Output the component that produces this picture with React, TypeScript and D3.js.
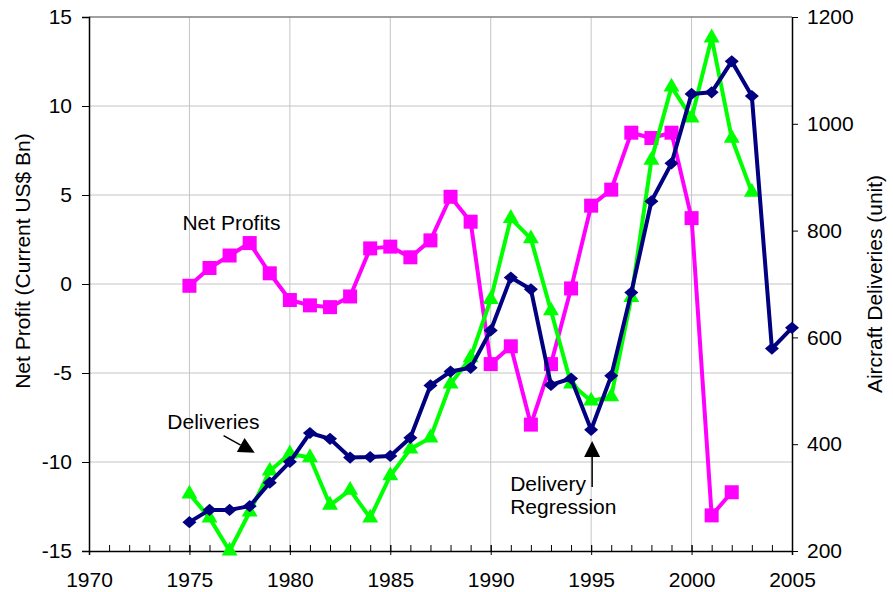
import * as d3 from "d3";
import React, { useEffect, useRef } from "react";

// data
const years = d3.range(1975, 2006);
const netProfit = [
    -0.1, 0.9, 1.6, 2.3, 0.6, -0.9, -1.2, -1.3, -0.7, 2.0, 2.1, 1.5, 2.45, 4.9,
    3.5, -4.5, -3.5, -7.9, -4.5, -0.25, 4.4, 5.3, 8.5, 8.2, 8.5, 3.7, -13.0,
    -11.7,
];
const greenDeliveries = [
    307, 262, 200, 273, 350, 382, 375, 286, 314, 262, 341, 391, 412, 513, 562,
    671, 823, 785, 650, 513, 481, 489, 675, 932, 1069, 1011, 1161, 973, 872,
];
const navyDeliveries = [
    254, 277, 277, 284, 328, 367, 421, 410, 375, 376, 378, 412, 510, 536, 543,
    613, 712, 690, 511, 523, 427, 528, 684, 855, 926, 1056, 1059, 1117, 1052,
    579, 618,
];
const leftTicks = [-15, -10, -5, 0, 5, 10, 15];
const rightTicks = [200, 400, 600, 800, 1000, 1200];
const xTicks = [1970, 1975, 1980, 1985, 1990, 1995, 2000, 2005];

const W = 893,
    H = 592;
const FONT = "'Liberation Sans', Arial, sans-serif";
const FS = 21;
const plain = (d: d3.NumberValue) => String(d); // hyphen minus like the original

const App: React.FC = () => {
    const svgRef = useRef<SVGSVGElement>(null);

    useEffect(() => {
        const svg = d3.select(svgRef.current);
        svg.selectAll("*").remove();

        const margin = { top: 17, right: 101, bottom: 41, left: 89 };
        const x = d3
            .scaleLinear()
            .domain([1970, 2005])
            .range([margin.left, W - margin.right]);
        const yL = d3
            .scaleLinear()
            .domain([-15, 15])
            .range([H - margin.bottom, margin.top]);
        const yR = d3
            .scaleLinear()
            .domain([200, 1200])
            .range([H - margin.bottom, margin.top]);
        const x0 = x(1970),
            x1 = x(2005),
            yTop = yL(15),
            yBot = yL(-15);

        const g = svg.append("g").attr("font-family", FONT);

        // gridlines
        g.selectAll(".hgrid")
            .data(leftTicks.filter(d => d > -15 && d < 15))
            .enter()
            .append("line")
            .attr("x1", x0)
            .attr("x2", x1)
            .attr("y1", d => yL(d))
            .attr("y2", d => yL(d))
            .attr("stroke", "#c4c4c4");
        g.selectAll(".vgrid")
            .data(xTicks.filter(d => d > 1970 && d < 2005))
            .enter()
            .append("line")
            .attr("x1", d => x(d))
            .attr("x2", d => x(d))
            .attr("y1", yTop)
            .attr("y2", yBot)
            .attr("stroke", "#c4c4c4");
        g.append("line")
            .attr("x1", x0)
            .attr("x2", x1)
            .attr("y1", yTop)
            .attr("y2", yTop)
            .attr("stroke", "#808080")
            .attr("stroke-width", 1.5);

        // axes
        g.append("g")
            .attr("transform", `translate(${x0},0)`)
            .call(
                d3
                    .axisLeft(yL)
                    .tickValues(leftTicks)
                    .tickSize(7)
                    .tickPadding(10)
                    .tickFormat(plain),
            )
            .call(a => a.select(".domain").attr("stroke", "#000").attr("stroke-width", 1.5));
        g.append("g")
            .attr("transform", `translate(${x1},0)`)
            .call(
                d3
                    .axisRight(yR)
                    .tickValues(rightTicks)
                    .tickSizeInner(6)
                    .tickSizeOuter(0)
                    .tickPadding(9)
                    .tickFormat(plain),
            )
            .call(a => a.select(".domain").attr("stroke", "#000").attr("stroke-width", 1.5));
        // minor year ticks (inside)
        g.append("g")
            .attr("transform", `translate(0,${yBot})`)
            .call(
                d3
                    .axisBottom(x)
                    .tickValues(d3.range(1970, 2006))
                    .tickSize(-6)
                    .tickFormat(() => ""),
            )
            .call(a => a.select(".domain").remove());
        g.append("g")
            .attr("transform", `translate(0,${yBot})`)
            .call(
                d3
                    .axisBottom(x)
                    .tickValues(xTicks)
                    .tickSize(4)
                    .tickPadding(17)
                    .tickFormat(plain),
            )
            .call(a => a.select(".domain").attr("stroke", "#000").attr("stroke-width", 1.5))
            .call(a => a.selectAll(".tick line").attr("y1", -6));

        g.selectAll(".tick text")
            .attr("font-size", FS)
            .attr("font-family", FONT)
            .attr("fill", "#000");

        // axis titles
        g.append("text")
            .attr("transform", `translate(30,261) rotate(-90)`)
            .attr("text-anchor", "middle")
            .attr("font-size", FS)
            .text("Net Profit (Current US$ Bn)");
        g.append("text")
            .attr("transform", `translate(882,284) rotate(-90)`)
            .attr("text-anchor", "middle")
            .attr("font-size", FS)
            .text("Aircraft Deliveries (unit)");

        // series
        const profitLine = d3
            .line<number>()
            .x((_, i) => x(years[i]))
            .y(d => yL(d));
        const delivLine = d3
            .line<number>()
            .x((_, i) => x(years[i]))
            .y(d => yR(d));

        g.append("path")
            .datum(netProfit)
            .attr("fill", "none")
            .attr("stroke", "#ff00ff")
            .attr("stroke-width", 4)
            .attr("stroke-linejoin", "round")
            .attr("d", profitLine);
        g.selectAll(".sq")
            .data(netProfit)
            .enter()
            .append("rect")
            .attr("x", (_, i) => x(years[i]) - 7)
            .attr("y", d => yL(d) - 7)
            .attr("width", 14)
            .attr("height", 14)
            .attr("fill", "#ff00ff");

        g.append("path")
            .datum(greenDeliveries)
            .attr("fill", "none")
            .attr("stroke", "#00ff00")
            .attr("stroke-width", 4)
            .attr("stroke-linejoin", "round")
            .attr("d", delivLine);
        const tri = d3.symbol().type(d3.symbolTriangle).size(110);
        g.selectAll(".tri")
            .data(greenDeliveries)
            .enter()
            .append("path")
            .attr("transform", (d, i) => `translate(${x(years[i])},${yR(d)})`)
            .attr("d", tri)
            .attr("fill", "#00ff00");

        g.append("path")
            .datum(navyDeliveries)
            .attr("fill", "none")
            .attr("stroke", "#000080")
            .attr("stroke-width", 4)
            .attr("stroke-linejoin", "round")
            .attr("d", delivLine);
        const dia = d3.symbol().type(d3.symbolDiamond2).size(95);
        g.selectAll(".dia")
            .data(navyDeliveries)
            .enter()
            .append("path")
            .attr("transform", (d, i) => `translate(${x(years[i])},${yR(d)}) scale(1.15,1)`)
            .attr("d", dia)
            .attr("fill", "#000080");

        // annotations
        const arrow = (fx: number, fy: number, tx: number, ty: number) => {
            const ang = Math.atan2(ty - fy, tx - fx);
            const len = 16,
                half = 8;
            const bx = tx - len * Math.cos(ang),
                by = ty - len * Math.sin(ang);
            g.append("line")
                .attr("x1", fx)
                .attr("y1", fy)
                .attr("x2", bx)
                .attr("y2", by)
                .attr("stroke", "#000")
                .attr("stroke-width", 1.5);
            const px = -Math.sin(ang) * half,
                py = Math.cos(ang) * half;
            g.append("path")
                .attr("d", `M${tx},${ty}L${bx + px},${by + py}L${bx - px},${by - py}Z`)
                .attr("fill", "#000");
        };

        g.append("text")
            .attr("x", x(1974.65))
            .attr("y", yR(802))
            .attr("font-size", FS)
            .text("Net Profits");
        g.append("text")
            .attr("x", x(1973.9))
            .attr("y", yR(428))
            .attr("font-size", FS)
            .text("Deliveries");
        arrow(x(1976.7), yR(416), x(1978.25), yR(384));

        g.append("text")
            .attr("x", x(1990.97))
            .attr("y", yR(312))
            .attr("font-size", FS)
            .text("Delivery");
        g.append("text")
            .attr("x", x(1990.97))
            .attr("y", yR(269))
            .attr("font-size", FS)
            .text("Regression");
        arrow(x(1995.05), yR(320), x(1995.05), yR(406));
    }, []);

    return (
        <svg
            ref={svgRef}
            width={W}
            height={H}
            style={{ position: "absolute", left: 0, top: 0, background: "#fff" }}
        ></svg>
    );
};

export default App;
